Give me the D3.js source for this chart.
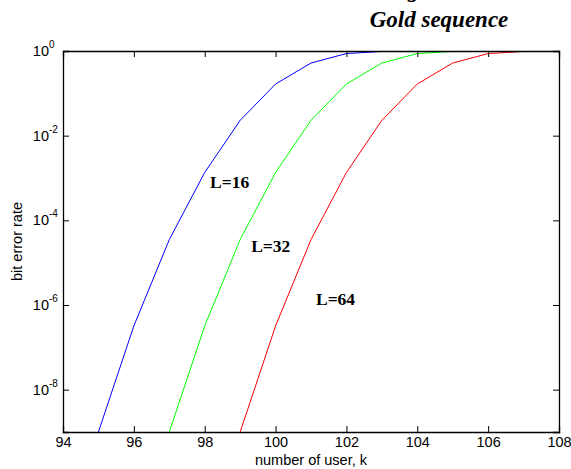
<!DOCTYPE html>
<html><head><meta charset="utf-8">
<script src="https://cdn.jsdelivr.net/npm/d3@7"></script>
<style>
html,body{margin:0;padding:0;background:#fff;}
svg{display:block;}
</style></head>
<body>
<script>
// ---- data ----
const kL16 = [95, 96, 97, 98, 99, 100, 101, 102, 103, 104, 105, 106, 107, 108];
const berL16 = [1e-9, 3.2e-7, 3.5e-5, 1.35e-3, 0.023, 0.166, 0.52, 0.87, 0.975, 0.998, 1, 1, 1, 1];
const kL32 = [97, 98, 99, 100, 101, 102, 103, 104, 105, 106, 107, 108];
const berL32 = [1e-9, 3.2e-7, 3.5e-5, 1.35e-3, 0.023, 0.166, 0.52, 0.87, 0.975, 0.998, 1, 1];
const kL64 = [99, 100, 101, 102, 103, 104, 105, 106, 107, 108];
const berL64 = [1e-9, 3.2e-7, 3.5e-5, 1.35e-3, 0.023, 0.166, 0.52, 0.87, 0.975, 0.998];
const seriesNames = ["L=16", "L=32", "L=64"];
const seriesColors = ["#0000ff", "#00ff00", "#ff0000"];
const labelK = [98.15, 99.31, 101.14];
const labelBer = [5.9e-4, 1.8e-5, 9.8e-7];
const xTicks = [94, 96, 98, 100, 102, 104, 106, 108];
const yTickExps = [0, -2, -4, -6, -8];
const titleText = "Gold sequence";
const xLabel = "number of user, k";
const yLabel = "bit error rate";

// ---- layout ----
const W = 571, H = 469;
const m = {left: 63, right: 12, top: 51, bottom: 37};
const svg = d3.select("body").append("svg").attr("width", W).attr("height", H);
const x = d3.scaleLinear().domain([94, 108]).range([m.left, W - m.right]);
const y = d3.scaleLog().domain([1e-9, 1]).range([H - m.bottom, m.top]);
const font = "Arial, 'Liberation Sans', Helvetica, sans-serif";
const serif = "'Times New Roman', 'Liberation Serif', Times, serif";

svg.append("defs").append("clipPath").attr("id", "clip")
  .append("rect").attr("x", m.left).attr("y", m.top)
  .attr("width", x(108) - x(94)).attr("height", y(1e-9) - y(1));

// curves
const series = [
  {k: kL16, v: berL16}, {k: kL32, v: berL32}, {k: kL64, v: berL64}
];
const line = d3.line().x(d => x(d[0])).y(d => y(d[1]));
series.forEach((s, i) => {
  svg.append("path")
    .datum(s.k.map((k, j) => [k, s.v[j]]))
    .attr("d", line)
    .attr("fill", "none")
    .attr("stroke", seriesColors[i])
    .attr("stroke-width", 1)
    .attr("clip-path", "url(#clip)");
});

// axes box with inward ticks
const tl = 6;
const xb = d3.axisBottom(x).tickValues(xTicks).tickSize(-tl).tickPadding(5).tickFormat(d3.format("d"));
const xt = d3.axisTop(x).tickValues(xTicks).tickSize(-tl).tickFormat("");
const yl = d3.axisLeft(y).tickValues(yTickExps.map(e => Math.pow(10, e))).tickSize(-tl).tickFormat("");
const yr = d3.axisRight(y).tickValues(yTickExps.map(e => Math.pow(10, e))).tickSize(-tl).tickFormat("");

const gxb = svg.append("g").attr("transform", `translate(0,${y(1e-9)})`).call(xb);
svg.append("g").attr("transform", `translate(0,${y(1)})`).call(xt);
svg.append("g").attr("transform", `translate(${x(94)},0)`).call(yl);
svg.append("g").attr("transform", `translate(${x(108)},0)`).call(yr);
svg.selectAll(".domain").attr("stroke", "#000").attr("stroke-width", 1.3);
svg.selectAll(".tick line").attr("stroke", "#000");
gxb.selectAll("text").attr("font-family", font).attr("font-size", 14.5).attr("fill", "#000");

// y tick labels 10^e
yTickExps.forEach(e => {
  svg.append("text")
    .attr("x", x(94) - 14).attr("y", y(Math.pow(10, e)) + 5)
    .attr("text-anchor", "end")
    .attr("font-family", font).attr("font-size", 14.5).attr("fill", "#000")
    .text("10");
  svg.append("text")
    .attr("x", x(94) - 14).attr("y", y(Math.pow(10, e)) - 3)
    .attr("font-family", font).attr("font-size", 10).attr("fill", "#000")
    .text(String(e));
});

// axis labels
svg.append("text").attr("x", (x(94) + x(108)) / 2).attr("y", 465)
  .attr("text-anchor", "middle").attr("font-family", font).attr("font-size", 14.5)
  .text(xLabel);
svg.append("text")
  .attr("transform", `translate(22,${(y(1) + y(1e-9)) / 2}) rotate(-90)`)
  .attr("text-anchor", "middle").attr("font-family", font).attr("font-size", 14.5)
  .text(yLabel);

// title
svg.append("text").attr("x", 439).attr("y", 27).attr("text-anchor", "middle")
  .attr("font-family", serif).attr("font-size", 23).attr("font-weight", "bold")
  .attr("font-style", "italic").text(titleText);
svg.append("text").attr("x", 408).attr("y", -3)
  .attr("font-family", serif).attr("font-size", 23).attr("font-weight", "bold")
  .attr("font-style", "italic").text("g");

// curve labels
seriesNames.forEach((n, i) => {
  svg.append("text")
    .attr("x", x(labelK[i])).attr("y", y(labelBer[i]))
    .attr("font-family", serif).attr("font-size", 17.5).attr("font-weight", "bold")
    .attr("fill", "#000").text(n);
});
</script>
</body></html>
